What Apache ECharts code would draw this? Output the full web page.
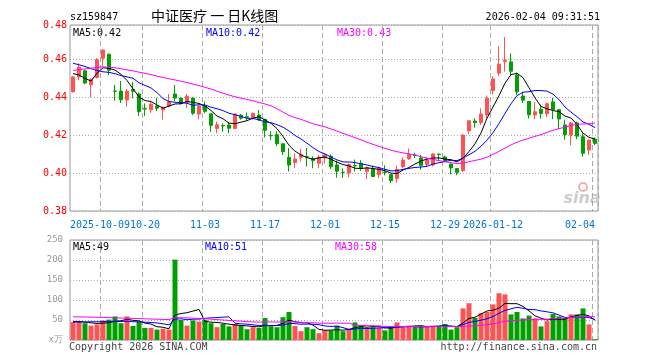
<!DOCTYPE html>
<html><head><meta charset="utf-8">
<script src="https://cdn.jsdelivr.net/npm/echarts@6/dist/echarts.min.js"></script>
<style>html,body{margin:0;padding:0;background:#fff}#c{width:660px;height:360px}</style>
</head><body><div id="c"></div>
<script>
const dates = ['2025-09-24','2025-09-25','2025-09-26','2025-09-29','2025-09-30','2025-10-09','2025-10-10','2025-10-13','2025-10-14','2025-10-15',
'2025-10-16','2025-10-17','2025-10-20','2025-10-21','2025-10-22','2025-10-23','2025-10-24','2025-10-27','2025-10-28','2025-10-29',
'2025-10-30','2025-10-31','2025-11-03','2025-11-04','2025-11-05','2025-11-06','2025-11-07','2025-11-10','2025-11-11','2025-11-12',
'2025-11-13','2025-11-14','2025-11-17','2025-11-18','2025-11-19','2025-11-20','2025-11-21','2025-11-24','2025-11-25','2025-11-26',
'2025-11-27','2025-11-28','2025-12-01','2025-12-02','2025-12-03','2025-12-04','2025-12-05','2025-12-08','2025-12-09','2025-12-10',
'2025-12-11','2025-12-12','2025-12-15','2025-12-16','2025-12-17','2025-12-18','2025-12-19','2025-12-22','2025-12-23','2025-12-24',
'2025-12-25','2025-12-26','2025-12-29','2025-12-30','2025-12-31','2026-01-05','2026-01-06','2026-01-07','2026-01-08','2026-01-09',
'2026-01-12','2026-01-13','2026-01-14','2026-01-15','2026-01-16','2026-01-19','2026-01-20','2026-01-21','2026-01-22','2026-01-23',
'2026-01-26','2026-01-27','2026-01-28','2026-01-29','2026-01-30','2026-02-02','2026-02-03','2026-02-04'];

const openP = [.4430,.4508,.4540,.4467,.4505,.4607,.4628,.4434,.4433,.4386,
.4442,.4418,.4342,.4334,.4354,.4334,.4354,.4418,.4395,.4372,
.4396,.4312,.4354,.4313,.4236,.4251,.4254,.4236,.4305,.4298,
.4292,.4307,.4284,.4199,.4203,.4155,.4083,.4056,.4084,.4086,
.4077,.4052,.4080,.4089,.4043,.4005,.4000,.4040,.4052,.4010,
.4025,.3992,.4006,.3992,.3972,.4034,.4076,.4096,.4080,.4046,
.4043,.4100,.4085,.4048,.4024,.4013,.4223,.4275,.4267,.4307,
.4436,.4528,.4588,.4587,.4518,.4407,.4378,.4307,.4337,.4313,
.4376,.4335,.4254,.4201,.4265,.4192,.4122,.4179];

const closeP = [.4508,.4560,.4476,.4496,.4599,.4650,.4543,.4432,.4387,.4433,
.4432,.4324,.4338,.4364,.4343,.4346,.4377,.4396,.4368,.4406,
.4316,.4354,.4326,.4252,.4255,.4249,.4237,.4312,.4290,.4295,
.4315,.4280,.4226,.4197,.4155,.4113,.4043,.4074,.4097,.4084,
.4066,.4084,.4096,.4034,.4010,.4003,.4046,.4038,.4025,.4027,
.3982,.4026,.4004,.3960,.4020,.4069,.4098,.4092,.4041,.4068,
.4101,.4098,.4063,.4027,.4004,.4201,.4276,.4267,.4312,.4395,
.4497,.4575,.4595,.4538,.4429,.4385,.4308,.4324,.4315,.4366,
.4335,.4286,.4203,.4265,.4195,.4105,.4175,.4157];

const lowP = [.4425,.4490,.4470,.4400,.4500,.4562,.4517,.4383,.4370,.4350,
.4395,.4302,.4302,.4318,.4328,.4282,.4347,.4380,.4362,.4345,
.4307,.4284,.4316,.4218,.4212,.4218,.4211,.4232,.4282,.4277,
.4282,.4277,.4188,.4175,.4142,.4096,.4008,.4026,.4062,.4035,
.4026,.4026,.4051,.4021,.3976,.3975,.3979,.4009,.4012,.3968,
.3979,.3973,.3988,.3947,.3950,.4026,.4070,.4080,.4018,.4035,
.4035,.4066,.4058,.3993,.3989,.4007,.4207,.4240,.4254,.4289,
.4416,.4514,.4536,.4518,.4412,.4370,.4288,.4285,.4288,.4296,
.4285,.4233,.4176,.4147,.4179,.4087,.4096,.4148];

const highP = [.4512,.4580,.4545,.4500,.4608,.4652,.4630,.4466,.4486,.4444,
.4482,.4426,.4368,.4375,.4398,.4352,.4418,.4466,.4400,.4418,
.4400,.4356,.4378,.4313,.4272,.4262,.4267,.4313,.4312,.4320,
.4320,.4333,.4286,.4221,.4220,.4158,.4133,.4105,.4128,.4133,
.4089,.4096,.4105,.4098,.4066,.4025,.4052,.4072,.4068,.4035,
.4040,.4035,.4042,.3993,.4040,.4084,.4130,.4107,.4096,.4084,
.4105,.4104,.4092,.4050,.4026,.4204,.4278,.4289,.4342,.4410,
.4512,.4670,.4718,.4632,.4530,.4430,.4380,.4375,.4361,.4372,
.4398,.4337,.4282,.4270,.4272,.4210,.4177,.4189];

const ma5 = [.4525,.4518,.4500,.4486,
.4528,.4556,.4553,.4544,.4522,.4489,.4445,.4402,.4383,.4378,
.4360,.4343,.4354,.4365,.4366,.4379,.4373,.4368,.4354,.4331,
.4301,.4287,.4264,.4261,.4269,.4277,.4290,.4298,.4281,.4263,
.4235,.4194,.4147,.4116,.4096,.4082,.4073,.4081,.4085,.4073,
.4058,.4045,.4038,.4026,.4024,.4028,.4024,.4020,.4013,.4000,
.3998,.4016,.4030,.4048,.4064,.4074,.4080,.4080,.4074,.4071,
.4059,.4079,.4114,.4155,.4212,.4290,.4349,.4409,.4475,.4520,
.4527,.4504,.4451,.4397,.4352,.4340,.4330,.4325,.4301,.4291,
.4257,.4211,.4189,.4179];

const ma10 = [.4580,.4572,.4563,.4552,.4542,.4535,.4532,.4525,.4515,
.4508,.4501,.4477,.4463,.4450,.4425,.4394,.4378,.4374,.4372,
.4369,.4358,.4361,.4360,.4348,.4340,.4330,.4316,.4308,.4300,
.4289,.4289,.4281,.4271,.4266,.4256,.4242,.4223,.4199,.4180,
.4158,.4134,.4114,.4101,.4085,.4070,.4059,.4059,.4056,.4049,
.4043,.4035,.4029,.4020,.4012,.4013,.4020,.4025,.4030,.4032,
.4036,.4048,.4055,.4061,.4068,.4066,.4079,.4097,.4115,.4142,
.4174,.4214,.4262,.4315,.4366,.4409,.4427,.4430,.4436,.4436,
.4433,.4417,.4388,.4349,.4322,.4298,.4270,.4257,.4240];

const ma30 = [.4542,.4546,.4550,.4554,.4558,.4561,.4560,.4556,.4551,.4545,
.4540,.4533,.4527,.4520,.4512,.4505,.4498,.4492,.4485,.4478,
.4470,.4462,.4453,.4444,.4433,.4422,.4412,.4403,.4396,
.4389,.4382,.4373,.4365,.4355,.4340,.4322,.4305,.4293,.4284,
.4272,.4260,.4252,.4244,.4233,.4222,.4210,.4199,.4187,.4176,
.4163,.4152,.4141,.4131,.4121,.4113,.4107,.4102,.4095,.4087,
.4079,.4072,.4066,.4060,.4055,.4050,.4053,.4060,.4067,.4074,
.4084,.4099,.4115,.4132,.4149,.4163,.4175,.4184,.4194,.4203,
.4215,.4226,.4235,.4242,.4252,.4258,.4259,.4261,.4264];

const volume = [45,45,42,36,39,49,51,59,42,59,
35,45,30,30,26,28,26,201,50,36,
49,46,50,42,32,40,34,40,36,27,
32,30,55,34,32,57,70,35,22,32,
27,17,24,24,36,22,27,44,38,28,
32,30,24,34,44,30,36,32,36,34,
34,36,40,26,32,79,92,55,67,70,
89,117,114,64,70,54,61,54,34,47,
65,59,55,64,64,79,39,2];

const volMa5 = [46,46,45,43,
41.4,42.2,43.4,46.8,48,52,49.2,48,42.2,39.8,
33.2,31.8,28,62.2,66.2,68.2,72.4,76.4,46.2,44.6,
43.8,42,39.6,37.6,36.4,35.4,33.8,33,36,35.6,
36.6,41.6,49.6,45.6,43.2,43.2,37.2,26.6,24.4,24.8,
25.6,24.6,26.6,30.6,33.4,31.8,33.8,34.4,30.4,29.6,
32.8,32.4,33.6,35.2,35.6,33.6,34.4,34.4,36,34,
33.6,42.6,53.8,56.8,65,72.6,74.6,79.6,91.4,90.8,
90.8,83.8,72.6,60.6,54.6,50,52.2,51.8,52,58,
61.4,64.2,60.2,49.6];

const volMa10 = [45,45,45,45.5,45.5,46,46,46.5,46.5,
46.7,45.7,45.7,44.5,43.9,42.6,40.5,38,52.2,53,
50.7,52.1,52.2,54.2,55.4,56,57.2,58,41.9,40.5,
39.6,37.9,36.3,36.8,36,36,37.7,41.3,40.8,39.4,
39.9,39.4,38.1,35,34,34.4,30.9,26.6,27.5,29.1,
28.7,29.2,30.5,30.5,31.5,32.3,33.1,34,32.8,32.6,
33.2,33.4,34,35.6,34.8,33.6,38.5,44.1,46.4,49.5,
53.1,58.6,66.7,74.1,77.9,81.7,79.2,76.1,76,72.7,
70.4,68,62.2,56.3,56.3,55.7,58.2,56,50.8];

const volMa30 = [58,57.8,57.5,57.2,56.8,56.4,56,55.5,55,54.5,
54,53.5,53,52.5,52,51.5,51,
56,55.7,55.2,54.5,53.8,53,52,51,50,49,48,47,
45.7,45.2,44.7,45.2,45.1,44.9,45.1,45.8,45.0,44.3,
43.4,43.1,42.2,42.0,41.8,42.1,41.9,42.0,36.7,36.3,
36.1,35.5,35.0,34.1,33.8,34.2,33.9,34.0,33.7,33.7,
33.9,34.0,34.2,33.7,33.4,33.4,34.2,34.9,35.6,37.1,
38.3,40.4,43.7,46.7,48.1,49.2,50.3,51.4,51.7,51.6,
52.2,53.3,54.3,55.3,56.3,57.0,58.6,58.7,57.7];

const tickDates = ['2025-10-09','2025-10-20','2025-11-03','2025-11-17','2025-12-01','2025-12-15','2025-12-29','2026-01-12','2026-02-04'];
const tickLabels = ['2025-10-09','10-20','11-03','11-17','12-01','12-15','12-29','2026-01-12','02-04'];
const priceLabels = {min: 0.38, max: 0.4782, step: 0.02};
const volLabels = {min: 0, max: 250, step: 50, unit: 'x万'};

const UP = '#ff5252', DOWN = '#00a000';
const MONO = '"DejaVu Sans Mono", monospace';
const isTick = (i, v) => tickDates.indexOf(v) >= 0;

const chart = echarts.init(document.getElementById('c'), null, {renderer: 'canvas'});

const xBase = (grid, showLabel) => ({
  type: 'category', gridIndex: grid, data: dates, boundaryGap: true,
  axisLine: {show: false}, axisTick: {show: false},
  axisLabel: {
    show: showLabel, interval: isTick, color: '#0077cc', fontFamily: MONO, fontSize: 10, margin: 9,
    formatter: function (v) {
      const j = tickDates.indexOf(v);
      if (j === 0) return '{a|' + tickLabels[j] + '}';
      if (j === tickDates.length - 1) return '{b|' + tickLabels[j] + '}';
      return tickLabels[j];
    },
    rich: {
      a: {color: '#0077cc', fontFamily: MONO, fontSize: 10, padding: [0, 6, 0, 0]},
      b: {color: '#0077cc', fontFamily: MONO, fontSize: 10, padding: [0, 30, 0, 0]}
    }
  },
  splitLine: {show: true, interval: isTick, lineStyle: {color: '#aaaaaa', width: 1, type: [5, 3]}}
});

const txt = (x, y, text, fill, font, align) => ({
  type: 'text', silent: true,
  style: {x: x, y: y, text: text, fill: fill, font: font, textAlign: align || 'left', align: align || 'left', textVerticalAlign: 'middle', verticalAlign: 'middle'}
});

chart.setOption({
  animation: false,
  backgroundColor: '#ffffff',
  grid: [
    {left: 70, top: 25, width: 528, height: 186, show: true, borderColor: '#999999', borderWidth: 1, containLabel: false},
    {left: 70, top: 240, width: 528, height: 100, show: true, borderColor: '#999999', borderWidth: 1, containLabel: false}
  ],
  xAxis: [xBase(0, true), xBase(1, false)],
  yAxis: [
    {type: 'value', gridIndex: 0, min: priceLabels.min, max: priceLabels.max, interval: priceLabels.step,
      axisLine: {show: false}, axisTick: {show: false},
      axisLabel: {color: '#ff0000', fontFamily: MONO, fontSize: 10, margin: 3, formatter: v => v.toFixed(2)},
      splitLine: {show: true, lineStyle: {color: '#aaaaaa', width: 1, type: [1, 2]}}},
    {type: 'value', gridIndex: 1, min: volLabels.min, max: volLabels.max, interval: volLabels.step,
      axisLine: {show: false}, axisTick: {show: false},
      axisLabel: {color: '#999999', fontFamily: MONO, fontSize: 9, margin: 7, formatter: v => v === 0 ? volLabels.unit : String(v)},
      splitLine: {show: true, lineStyle: {color: '#aaaaaa', width: 1, type: [1, 2]}}}
  ],
  series: [
    {type: 'candlestick', xAxisIndex: 0, yAxisIndex: 0, barWidth: 4,
      data: dates.map((d, i) => [openP[i], closeP[i], lowP[i], highP[i]]),
      itemStyle: {color: UP, color0: DOWN, borderColor: UP, borderColor0: DOWN, borderWidth: 1}},
    {type: 'line', xAxisIndex: 0, yAxisIndex: 0, data: ma5, symbol: 'none', lineStyle: {color: '#000000', width: 1}, z: 5},
    {type: 'line', xAxisIndex: 0, yAxisIndex: 0, data: ma10, symbol: 'none', lineStyle: {color: '#0000ff', width: 1}, z: 5},
    {type: 'line', xAxisIndex: 0, yAxisIndex: 0, data: ma30, symbol: 'none', lineStyle: {color: '#ff00ff', width: 1}, z: 5},
    {type: 'bar', xAxisIndex: 1, yAxisIndex: 1, barWidth: 5, data: volume,
      itemStyle: {color: p => closeP[p.dataIndex] >= openP[p.dataIndex] ? UP : DOWN}},
    {type: 'line', xAxisIndex: 1, yAxisIndex: 1, data: volMa5, symbol: 'none', lineStyle: {color: '#000000', width: 1}, z: 5},
    {type: 'line', xAxisIndex: 1, yAxisIndex: 1, data: volMa10, symbol: 'none', lineStyle: {color: '#0000ff', width: 1}, z: 5},
    {type: 'line', xAxisIndex: 1, yAxisIndex: 1, data: volMa30, symbol: 'none', lineStyle: {color: '#ff00ff', width: 1}, z: 5}
  ],
  graphic: [
    txt(70, 17, 'sz159847', '#000000', '10px ' + MONO),
    txt(151, 16, '中证医疗 一 日K线图', '#000000', '14px "Noto Sans CJK SC"'),
    txt(600, 17, '2026-02-04 09:31:51', '#000000', '10px ' + MONO, 'right'),
    txt(73, 33, 'MA5:0.42', '#000000', '10px ' + MONO),
    txt(206, 33, 'MA10:0.42', '#0000ff', '10px ' + MONO),
    txt(337, 33, 'MA30:0.43', '#ff00ff', '10px ' + MONO),
    txt(73, 247, 'MA5:49', '#000000', '10px ' + MONO),
    txt(205, 247, 'MA10:51', '#0000ff', '10px ' + MONO),
    txt(335, 247, 'MA30:58', '#ff00ff', '10px ' + MONO),
    txt(69, 347, 'Copyright 2026 SINA.COM', '#444444', '10px ' + MONO),
    txt(597, 347, 'http://finance.sina.com.cn', '#444444', '10px ' + MONO, 'right'),
    {type: 'circle', silent: true, shape: {cx: 583, cy: 187, r: 4}, style: {fill: 'none', stroke: '#f3b0b0', lineWidth: 2}},
    txt(582, 199, 'sina', '#cccccc', 'italic bold 16px "DejaVu Sans"', 'center')
  ]
});
</script>
</body></html>
